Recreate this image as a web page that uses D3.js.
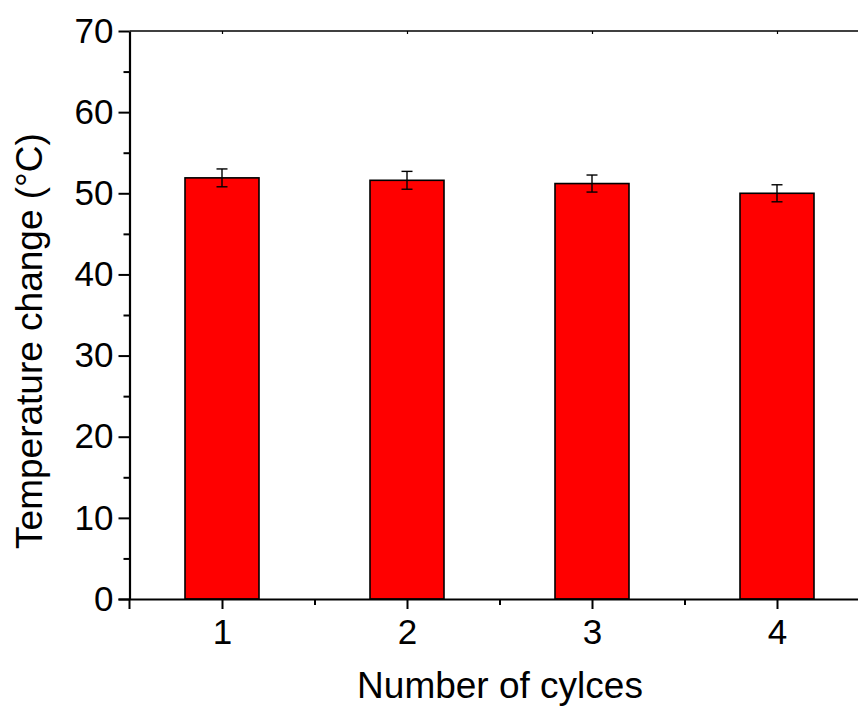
<!DOCTYPE html>
<html>
<head>
<meta charset="utf-8">
<script src="https://cdn.jsdelivr.net/npm/d3@7"></script>
<style>
  html, body { margin: 0; padding: 0; background: #fff; }
  svg { display: block; }
  text { font-family: "Liberation Sans", Arial, sans-serif; fill: #000; }
</style>
</head>
<body>
<svg id="chart" width="858" height="708"></svg>
<script>
const categories = [1, 2, 3, 4];
const values = [51.9, 51.6, 51.2, 50.0];
const errors = [1.1, 1.1, 1.05, 1.05];
const yTicks = [0, 10, 20, 30, 40, 50, 60, 70];
const yMinorTicks = [5, 15, 25, 35, 45, 55, 65];
const xMinorTicks = [1.5, 2.5, 3.5];
const xTitle = "Number of cylces";
const yTitle = "Temperature change (°C)";

(function () {
const svg = d3.select("#chart");
const plotLeft = 129.5, plotTop = 31, plotBottom = 599;
const x = d3.scaleLinear().domain([0.5, 4.5]).range([plotLeft, 869.5]);
const y = d3.scaleLinear().domain([0, 70]).range([plotBottom, plotTop]);
const barW = (x(1) - x(0)) * 0.4;

// bars
svg.append("g").selectAll("rect").data(categories).join("rect")
  .attr("x", (d) => x(d) - barW / 2)
  .attr("y", (d, i) => y(values[i]))
  .attr("width", barW)
  .attr("height", (d, i) => y(0) - y(values[i]))
  .attr("fill", "#ff0000")
  .attr("stroke", "#000")
  .attr("stroke-width", 1.6);

// error bars
const eg = svg.append("g").attr("stroke", "#000").attr("stroke-width", 1.4);
categories.forEach((c, i) => {
  const cx = x(c);
  eg.append("line").attr("x1", cx).attr("x2", cx)
    .attr("y1", y(values[i] + errors[i])).attr("y2", y(values[i] - errors[i]));
  [values[i] + errors[i], values[i] - errors[i]].forEach(v => {
    eg.append("line").attr("x1", cx - 5.5).attr("x2", cx + 5.5)
      .attr("y1", y(v)).attr("y2", y(v));
  });
});

// top frame
svg.append("line").attr("x1", plotLeft).attr("x2", 858).attr("y1", plotTop).attr("y2", plotTop)
  .attr("stroke", "#000").attr("stroke-width", 1.6);
const topAxis = svg.append("g").attr("transform", `translate(0,${plotTop})`)
  .call(d3.axisTop(x).tickValues(categories).tickSize(-3).tickFormat(""));
topAxis.select(".domain").remove();
topAxis.selectAll("line").attr("stroke-width", 1.2);

// y axis
const yAxis = svg.append("g").attr("transform", `translate(${plotLeft},0)`)
  .call(d3.axisLeft(y).tickValues(yTicks).tickSize(11).tickPadding(5).tickSizeOuter(0));
yAxis.select(".domain").attr("stroke-width", 2.2);
yAxis.selectAll(".tick line").attr("stroke-width", 2);
yAxis.selectAll(".tick text").attr("font-size", 35).attr("font-family", "Liberation Sans, Arial, sans-serif");
const yMinor = svg.append("g").attr("transform", `translate(${plotLeft},0)`)
  .call(d3.axisLeft(y).tickValues(yMinorTicks).tickSize(6).tickFormat(""));
yMinor.select(".domain").remove();
yMinor.selectAll("line").attr("stroke-width", 2);

// x axis
const xAxis = svg.append("g").attr("transform", `translate(0,${plotBottom})`)
  .call(d3.axisBottom(x).tickValues(categories).tickFormat(d3.format("d"))
    .tickSize(10).tickPadding(10).tickSizeOuter(0));
xAxis.select(".domain").attr("stroke-width", 2.2).attr("d", `M${plotLeft - 11},0.5H858`);
xAxis.selectAll(".tick line").attr("stroke-width", 2);
xAxis.selectAll(".tick text").attr("font-size", 35).attr("font-family", "Liberation Sans, Arial, sans-serif");
const xMinor = svg.append("g").attr("transform", `translate(0,${plotBottom})`)
  .call(d3.axisBottom(x).tickValues(xMinorTicks).tickSize(6).tickFormat(""));
xMinor.select(".domain").remove();
xMinor.selectAll("line").attr("stroke-width", 2);
svg.append("line").attr("x1", plotLeft).attr("x2", plotLeft).attr("y1", plotBottom).attr("y2", plotBottom + 10)
  .attr("stroke", "#000").attr("stroke-width", 2);

// titles
svg.append("text").attr("x", 500).attr("y", 698).attr("text-anchor", "middle")
  .attr("font-size", 37).text(xTitle);
svg.append("text").attr("transform", "translate(42,341) rotate(-90)")
  .attr("text-anchor", "middle").attr("font-size", 37).text(yTitle);
})();
</script>
</body>
</html>
